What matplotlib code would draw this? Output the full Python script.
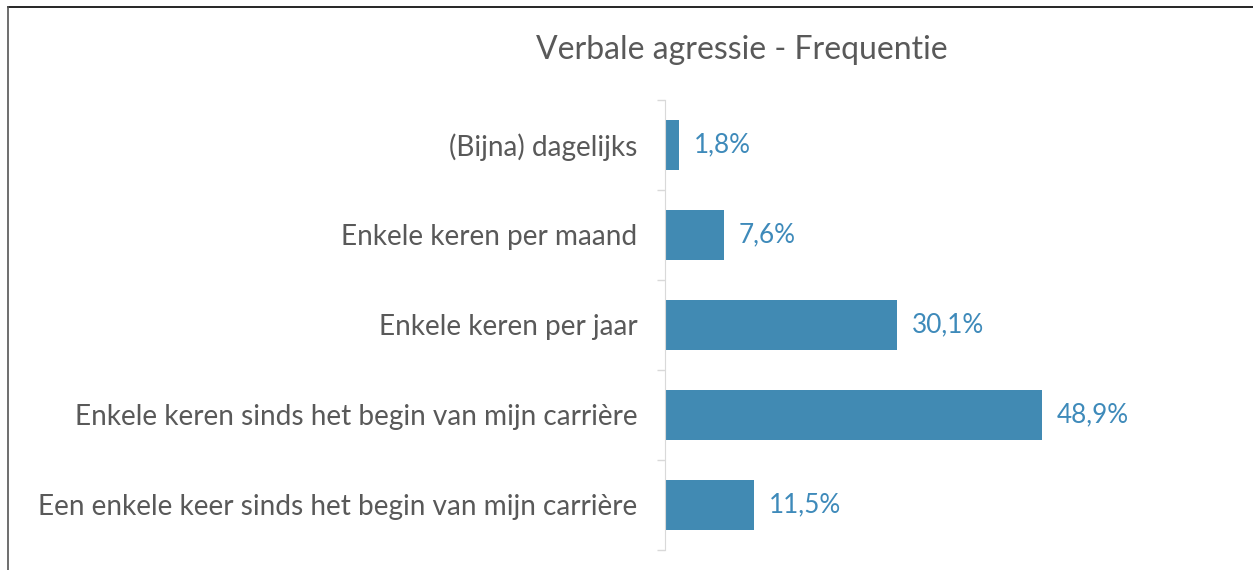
import matplotlib
matplotlib.use('Agg')
import matplotlib.pyplot as plt
from matplotlib.lines import Line2D

plt.rcParams['font.family'] = ['Lato', 'DejaVu Sans']

categories = ['(Bijna) dagelijks',
              'Enkele keren per maand',
              'Enkele keren per jaar',
              'Enkele keren sinds het begin van mijn carrière',
              'Een enkele keer sinds het begin van mijn carrière']
values = [1.8, 7.6, 30.1, 48.9, 11.5]
labels = ['1,8%', '7,6%', '30,1%', '48,9%', '11,5%']

bar_color = '#418AB3'
text_gray = '#595959'

W, H = 1253, 570
fig = plt.figure(figsize=(W / 100, H / 100), dpi=100)
ax = fig.add_axes([665 / W, 1 - 550 / H, (1200 - 665) / W, 450 / H])

y = list(range(len(categories)))
ax.barh(y, values, height=0.55, color=bar_color)
for yi, v, lab in zip(y, values, labels):
    ax.annotate(lab, (v, yi), xytext=(15, 0), textcoords='offset pixels',
                va='center', ha='left', color='#3E8ABA', fontsize=18.8)

ax.set_xlim(0, (1200 - 665) / 7.71)
ax.set_ylim(len(categories) - 0.5, -0.5)
ax.set_yticks(y)
ax.set_yticklabels(categories, fontsize=20.2, color=text_gray)
ax.set_yticks([i - 0.5 for i in range(len(categories) + 1)], minor=True)
ax.tick_params(axis='y', which='major', length=0, pad=20)
ax.tick_params(axis='y', which='minor', length=6, width=1, color='#D9D9D9')
ax.set_xticks([])
for s in ['top', 'right', 'bottom']:
    ax.spines[s].set_visible(False)
ax.spines['left'].set_color('#D9D9D9')

fig.text(742 / W, 1 - 50 / H, 'Verbale agressie - Frequentie', ha='center',
         va='center', fontsize=23, color=text_gray)

# frame of the chart area (cropped at right and bottom)
fig.add_artist(Line2D([8 / W, 1], [1 - 7 / H, 1 - 7 / H], color='black', lw=1.2))
fig.add_artist(Line2D([8 / W, 8 / W], [0, 1 - 7 / H], color='#555555', lw=1.2))

fig.savefig('out.png', dpi=100)
